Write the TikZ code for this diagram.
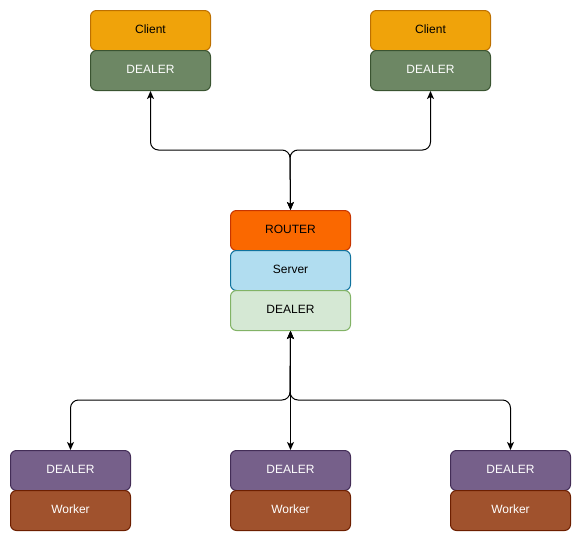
\documentclass[tikz,border=0pt]{standalone}
\usepackage{fontspec}
\setmainfont{Liberation Sans}
\usetikzlibrary{arrows.meta}
\definecolor{clientF}{HTML}{F0A30A}\definecolor{clientS}{HTML}{BD7000}
\definecolor{gdF}{HTML}{6D8764}\definecolor{gdS}{HTML}{3A5431}
\definecolor{rtF}{HTML}{FA6800}\definecolor{rtS}{HTML}{C73500}
\definecolor{svF}{HTML}{B1DDF0}\definecolor{svS}{HTML}{10739E}
\definecolor{ldF}{HTML}{D5E8D4}\definecolor{ldS}{HTML}{82B366}
\definecolor{pdF}{HTML}{76608A}\definecolor{pdS}{HTML}{432D57}
\definecolor{wkF}{HTML}{A0522D}\definecolor{wkS}{HTML}{6D1F00}
\tikzset{
  box/.style={draw, line width=1pt, rounded corners=6pt, minimum width=120pt, minimum height=40pt, inner sep=0pt, text height=9pt, text depth=3pt, font=\fontsize{12}{14}\selectfont, anchor=north west},
  clientbox/.style={box, fill=clientF, draw=clientS, text=black},
  gdealer/.style={box, fill=gdF, draw=gdS, text=white},
  routerbox/.style={box, fill=rtF, draw=rtS, text=black},
  serverbox/.style={box, fill=svF, draw=svS, text=black},
  ldealer/.style={box, fill=ldF, draw=ldS, text=black},
  pdealer/.style={box, fill=pdF, draw=pdS, text=white},
  workerbox/.style={box, fill=wkF, draw=wkS, text=white},
  conn/.style={line width=1pt, rounded corners=8pt, {Stealth[length=8pt,width=7pt,inset=2pt]}-{Stealth[length=8pt,width=7pt,inset=2pt]}}
}
\begin{document}
\begin{tikzpicture}[x=1pt,y=-1pt]
\useasboundingbox (0,0) rectangle (581,541);
\node[clientbox] (c1) at (90,10) {Client};
\node[gdealer] (d1) at (90,50) {DEALER};
\node[clientbox] (c2) at (370,10) {Client};
\node[gdealer] (d2) at (370,50) {DEALER};
\node[routerbox] (rt) at (230,210) {ROUTER};
\node[serverbox] (sv) at (230,250) {Server};
\node[ldealer] (ld) at (230,290) {DEALER};
\node[pdealer] (w1d) at (10,450) {DEALER};
\node[workerbox] (w1) at (10,490) {Worker};
\node[pdealer] (w2d) at (230,450) {DEALER};
\node[workerbox] (w2) at (230,490) {Worker};
\node[pdealer] (w3d) at (450,450) {DEALER};
\node[workerbox] (w3) at (450,490) {Worker};
\coordinate (top) at (290,150);
\coordinate (bot) at (290,400);
\draw[conn] (rt.north) -- (top) -| (d1.south);
\draw[conn] (rt.north) -- (top) -| (d2.south);
\draw[conn] (ld.south) -- (bot) -| (w1d.north);
\draw[conn] (ld.south) -- (w2d.north);
\draw[conn] (ld.south) -- (bot) -| (w3d.north);
\end{tikzpicture}
\end{document}
